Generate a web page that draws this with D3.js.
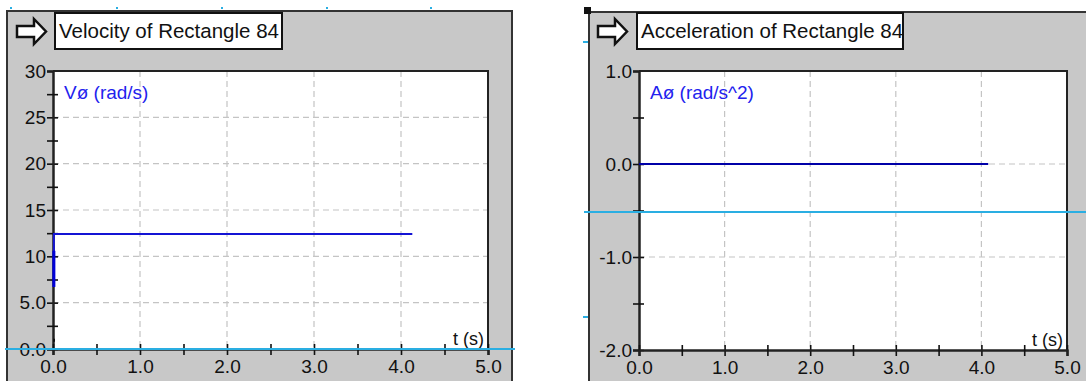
<!DOCTYPE html>
<html>
<head>
<meta charset="utf-8">
<script src="https://cdn.jsdelivr.net/npm/d3@7"></script>
<style>
  body { margin: 0; background: #fff; }
  svg { display: block; font-family: "Liberation Sans", Arial, sans-serif; }
</style>
</head>
<body>
<div id="chart"></div>
<script>
// values
const velTime = [0.01, 0.01, 4.13];
const velValue = [6.7, 12.4, 12.4];
const velStartTime = [0.01, 0.01];
const velStartValue = [6.7, 10.6];

const accTime = [0.0, 4.08];
const accValue = [0.0, 0.0];

const timeTicks = [0, 1, 2, 3, 4, 5];
const timeMinor = [0.5, 1.5, 2.5, 3.5, 4.5];
const velTicks = [0, 5, 10, 15, 20, 25, 30];
const velTickLabels = ["0.0", "5.0", "10", "15", "20", "25", "30"];
const velMinor = [2.5, 7.5, 12.5, 17.5, 22.5, 27.5];
const accTicks = [-2, -1, 0, 1];
const accTickLabels = ["-2.0", "-1.0", "0.0", "1.0"];
const accMinor = [-1.5, -0.5, 0.5];

const W = 1086, H = 381;
const gray = "#c8c8c8";
const cyan = "#2aaee2";

let svg = d3.select("#chart").append("svg")
    .attr("width", W)
    .attr("height", H);

// little cyan marks along the top
[11, 117, 222, 327, 431].forEach(x => {
    svg.append("rect").attr("x", x - 1).attr("y", 7).attr("width", 2).attr("height", 2).attr("fill", cyan);
});

function drawArrow(g, x, y) {
    // outlined arrow icon pointing right
    let pts = [[0, 7], [17, 7], [17, 0], [29, 12.5], [17, 25], [17, 18], [0, 18]];
    g.append("polygon")
        .attr("points", pts.map(p => (x + p[0]) + "," + (y + p[1])).join(" "))
        .attr("fill", "#fff")
        .attr("stroke", "#111")
        .attr("stroke-width", 2.5)
        .attr("stroke-linejoin", "miter");
}

function drawPanel(cfg) {
    let g = svg.append("g");

    // gray frame
    g.append("rect")
        .attr("x", cfg.frame[0]).attr("y", cfg.frame[1])
        .attr("width", cfg.frame[2] - cfg.frame[0]).attr("height", H + 5 - cfg.frame[1])
        .attr("fill", gray).attr("stroke", "#333").attr("stroke-width", 2);

    drawArrow(g, cfg.arrowX, 19);

    g.append("rect")
        .attr("x", cfg.titleBox[0]).attr("y", 13)
        .attr("width", cfg.titleBox[1] - cfg.titleBox[0]).attr("height", 36)
        .attr("fill", "#fff").attr("stroke", "#111").attr("stroke-width", 2);
    g.append("text")
        .attr("x", cfg.titleBox[0] + 4).attr("y", 38)
        .attr("font-size", 20.5).attr("fill", "#111")
        .text(cfg.title);

    let [l, t, r, b] = cfg.plot;
    let x = d3.scaleLinear().domain([0, 5]).range([l, r]);
    let y = d3.scaleLinear().domain(cfg.yDomain).range([b, t]);

    g.append("rect")
        .attr("x", l).attr("y", t).attr("width", r - l).attr("height", b - t)
        .attr("fill", "#fff");

    // dashed grid
    let grid = g.append("g")
        .attr("stroke", "#c4c4c4").attr("stroke-width", 1.2).attr("stroke-dasharray", "6,4");
    grid.selectAll("line.v").data(timeTicks.slice(1, -1)).enter().append("line")
        .attr("x1", d => x(d)).attr("x2", d => x(d)).attr("y1", t).attr("y2", b);
    grid.selectAll("line.h").data(cfg.yTicks.slice(1, -1)).enter().append("line")
        .attr("y1", d => y(d)).attr("y2", d => y(d)).attr("x1", l).attr("x2", r);

    // plot border top/right
    g.append("path")
        .attr("d", "M" + l + "," + t + " H" + r + " V" + b)
        .attr("fill", "none").attr("stroke", "#222").attr("stroke-width", 2);

    // axes
    let yAxis = g.append("g")
        .attr("transform", "translate(" + l + ",0)")
        .call(d3.axisLeft(y).tickValues(cfg.yTicks)
            .tickFormat((d, i) => cfg.yLabels[i])
            .tickSize(6).tickPadding(1));
    let yMinorAxis = g.append("g")
        .attr("transform", "translate(" + l + ",0)")
        .call(d3.axisLeft(y).tickValues(cfg.yMinor).tickFormat("").tickSize(6));

    let xAxis = g.append("g")
        .attr("transform", "translate(0," + b + ")")
        .call(d3.axisBottom(x).tickValues(timeTicks)
            .tickFormat(d3.format(".1f"))
            .tickSize(6).tickPadding(5));
    let xMinorAxis = g.append("g")
        .attr("transform", "translate(0," + b + ")")
        .call(d3.axisBottom(x).tickValues(timeMinor).tickFormat("").tickSize(6));

    g.selectAll(".domain").attr("stroke", "#222").attr("stroke-width", 2);
    g.selectAll(".tick line").attr("stroke", "#111").attr("stroke-width", 1.6);
    // ticks cross the axis, except the top one
    [yAxis, yMinorAxis].forEach(a => a.selectAll(".tick line")
        .attr("x1", d => d === cfg.yDomain[1] ? 0 : 5).attr("x2", -6));
    [xAxis, xMinorAxis].forEach(a => a.selectAll(".tick line").attr("y1", -5).attr("y2", 6));
    g.selectAll(".tick text")
        .attr("font-size", 19).attr("fill", "#111")
        .attr("font-family", "'Liberation Sans', Arial, sans-serif");

    // data
    let line = d3.line().x(d => x(d[0])).y(d => y(d[1]));
    g.append("path")
        .datum(cfg.xs.map((v, i) => [v, cfg.ys[i]]))
        .attr("d", line)
        .attr("fill", "none").attr("stroke", cfg.lineColor).attr("stroke-width", 2);
    if (cfg.startXs) {
        g.append("path")
            .datum(cfg.startXs.map((v, i) => [v, cfg.startYs[i]]))
            .attr("d", line)
            .attr("fill", "none").attr("stroke", "#0000d8").attr("stroke-width", 3);
        g.append("rect").attr("x", l).attr("y", y(1) - 1).attr("width", 2).attr("height", 3).attr("fill", "#111");
    }

    g.append("text")
        .attr("x", l + 11).attr("y", 99)
        .attr("font-size", 19).attr("fill", "#2222ee")
        .text(cfg.seriesLabel);

    g.append("text")
        .attr("x", r - 4).attr("y", b - 4)
        .attr("text-anchor", "end")
        .attr("font-size", 18).attr("fill", "#111")
        .text("t (s)");

    // cyan guide line
    g.append("line")
        .attr("x1", cfg.cyan[0]).attr("x2", cfg.cyan[1])
        .attr("y1", cfg.cyan[2]).attr("y2", cfg.cyan[2])
        .attr("stroke", cyan).attr("stroke-width", 2);
    (cfg.cyanMarks || []).forEach(m => {
        g.append("line")
            .attr("x1", m[0]).attr("x2", m[0] + 5).attr("y1", m[1]).attr("y2", m[1])
            .attr("stroke", cyan).attr("stroke-width", 2);
    });
}

drawPanel({
    frame: [7, 11, 512],
    arrowX: 17,
    titleBox: [55, 282],
    title: "Velocity of Rectangle 84",
    plot: [53, 71, 488, 349],
    yDomain: [0, 30],
    yTicks: velTicks,
    yLabels: velTickLabels,
    yMinor: velMinor,
    xs: velTime,
    ys: velValue,
    startXs: velStartTime,
    startYs: velStartValue,
    lineColor: "#1414d4",
    seriesLabel: "Vø (rad/s)",
    cyan: [5, 515, 349],
});

drawPanel({
    frame: [589, 12, 1095],
    arrowX: 598,
    titleBox: [637, 903],
    title: "Acceleration of Rectangle 84",
    plot: [639, 71, 1067, 350],
    yDomain: [-2, 1],
    yTicks: accTicks,
    yLabels: accTickLabels,
    yMinor: accMinor,
    xs: accTime,
    ys: accValue,
    lineColor: "#0000a8",
    seriesLabel: "Aø (rad/s^2)",
    cyan: [584, 1086, 212],
    cyanMarks: [[583, 42], [583, 317]],
});

// small black marker at top-left of second panel
svg.append("rect").attr("x", 584).attr("y", 7).attr("width", 7).attr("height", 7).attr("fill", "#111");
</script>
</body>
</html>
